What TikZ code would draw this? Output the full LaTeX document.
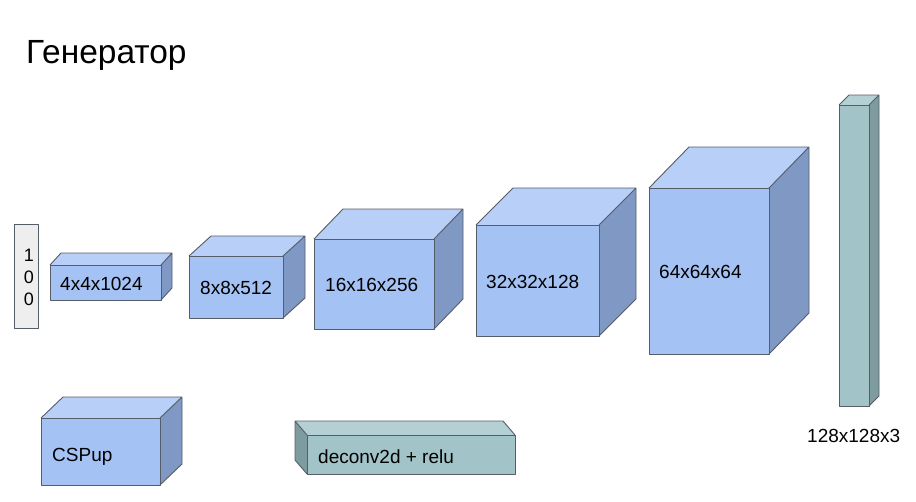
\documentclass[tikz,border=0pt]{standalone}
\usepackage{fontspec}
\setmainfont{Liberation Sans}
\usepackage{tikz}
\usetikzlibrary{calc}

\definecolor{bluFront}{HTML}{A4C2F4}
\definecolor{bluTop}{HTML}{B8CFF7}
\definecolor{bluSide}{HTML}{7F98C4}
\definecolor{teaFront}{HTML}{A2C4C9}
\definecolor{teaTop}{HTML}{B5D0D4}
\definecolor{teaSide}{HTML}{7E9B9F}
\definecolor{edgeGray}{HTML}{555D68}
\definecolor{inGray}{HTML}{EEEEEE}

\tikzset{
  edge/.style={draw=edgeGray,line width=0.9pt,line join=round},
  lbl/.style={anchor=base west,inner sep=0pt,font=\fontsize{19}{21}\selectfont},
}

% #1,#2 front top-left, #3,#4 front bottom-right, #5,#6 depth, #7 colour prefix
\newcommand{\layercube}[7]{%
  \fill[#7Top] (#1,#2) -- (#1+#5,#2-#6) -- (#3+#5,#2-#6) -- (#3,#2) -- cycle;
  \fill[#7Side] (#3,#2) -- (#3+#5,#2-#6) -- (#3+#5,#4-#6) -- (#3,#4) -- cycle;
  \fill[#7Front] (#1,#2) rectangle (#3,#4);
  \draw[edge] (#1,#2) rectangle (#3,#4);
  \draw[edge] (#1,#2) -- (#1+#5,#2-#6) -- (#3+#5,#2-#6) -- (#3+#5,#4-#6) -- (#3,#4)
              (#3+#5,#2-#6) -- (#3,#2);
}

\begin{document}
\begin{tikzpicture}[x=1pt,y=-1pt]
    \useasboundingbox (0,0) rectangle (916,501);

    % title
    \node[anchor=base west,inner sep=0pt,font=\fontsize{33.5}{38}\selectfont] (title) at (26,63) {Генератор};

    % input vector
    \draw[edge,fill=inGray] (14,224) rectangle (38,328);
    \begin{scope}[every node/.style={anchor=base,inner sep=0pt,font=\fontsize{18}{20}\selectfont}]
      \node (inA) at (29,261) {1};
      \node (inB) at (29,283) {0};
      \node (inC) at (29,305) {0};
    \end{scope}

    % generator layers
    \layercube{50}{265}{161}{300}{11}{12}{blu}
    \layercube{189}{256}{283}{318}{22}{20}{blu}
    \layercube{314}{239}{434}{329}{29}{30}{blu}
    \layercube{476}{225}{599}{336}{37}{37}{blu}
    \layercube{649}{188}{769}{354}{40}{41}{blu}
    \layercube{839}{105}{869}{406}{10}{10}{tea}

    \node[lbl] (l1) at (60,290) {4x4x1024};
    \node[lbl] (l2) at (200,294) {8x8x512};
    \node[lbl] (l3) at (325,291) {16x16x256};
    \node[lbl] (l4) at (486,288) {32x32x128};
    \node[lbl] (l5) at (659,278) {64x64x64};
    \node[lbl] (l6) at (807,442) {128x128x3};

    % legend
    \layercube{41}{418}{160}{485}{22}{21}{blu}
    \node[lbl] (cspup) at (52,461) {CSPup};

    \begin{scope}
      \fill[teaTop] (295,421) -- (503,421) -- (515,435) -- (307,435) -- cycle;
      \fill[teaSide] (295,421) -- (307,435) -- (307,474) -- (295,460) -- cycle;
      \fill[teaFront] (307,435) rectangle (515,474);
      \draw[edge] (307,435) rectangle (515,474);
      \draw[edge] (307,435) -- (295,421) -- (503,421) -- (515,435)
                  (295,421) -- (295,460) -- (307,474);
    \end{scope}
    \node[lbl] (deconv) at (318,463) {deconv2d + relu};
\end{tikzpicture}
\end{document}
